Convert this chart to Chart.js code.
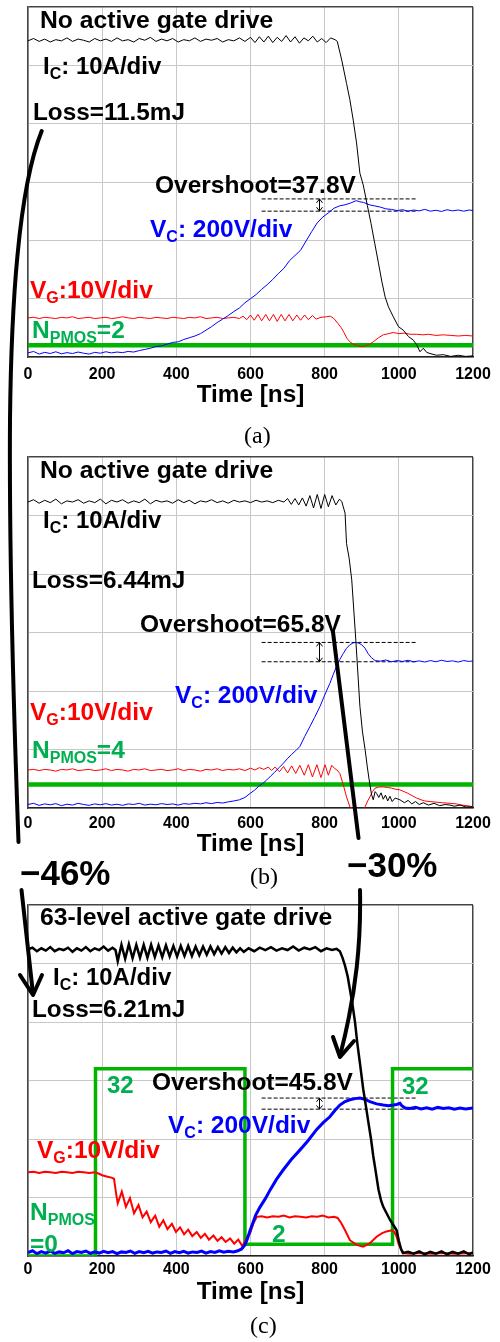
<!DOCTYPE html>
<html>
<head>
<meta charset="utf-8">
<script src="https://cdn.jsdelivr.net/npm/chart.js@4.4.1/dist/chart.umd.min.js"></script>
<style>
html, body { margin: 0; padding: 0; background: #fff; }
#page { position: relative; width: 500px; height: 1342px; overflow: hidden; }
.panel { position: absolute; left: 0; width: 500px; }
#overlay { position: absolute; left: 0; top: 0; pointer-events: none; }
</style>
</head>
<body>
<div id="page">
  <div class="panel" style="top:0px"><canvas id="chartA" width="500" height="420"></canvas></div>
  <div class="panel" style="top:450px"><canvas id="chartB" width="500" height="418"></canvas></div>
  <div class="panel" style="top:898px"><canvas id="chartC" width="500" height="418"></canvas></div>

  <svg id="overlay" width="500" height="1342" viewBox="0 0 500 1342">
    <g font-family="'Liberation Sans', Arial, sans-serif" font-weight="bold">
      <!-- (a) -->
      <text x="40" y="28" font-size="24.7">No active gate drive</text>
      <text x="43" y="74" font-size="24">I<tspan font-size="16" dy="5">C</tspan><tspan dy="-5">: 10A/div</tspan></text>
      <text x="33" y="120" font-size="24.3">Loss=11.5mJ</text>
      <text x="155" y="193" font-size="24.5">Overshoot=37.8V</text>
      <text x="150" y="237" font-size="24.5" fill="#0000ff">V<tspan font-size="16" dy="5">C</tspan><tspan dy="-5">: 200V/div</tspan></text>
      <text x="30" y="298" font-size="24.5" fill="#ff0000">V<tspan font-size="16" dy="5">G</tspan><tspan dy="-5">:10V/div</tspan></text>
      <text x="32" y="338" font-size="24.5" fill="#00b050">N<tspan font-size="16" dy="5">PMOS</tspan><tspan dy="-5">=2</tspan></text>

      <!-- (b) -->
      <text x="40" y="478" font-size="24.7">No active gate drive</text>
      <text x="43" y="528" font-size="24">I<tspan font-size="16" dy="5">C</tspan><tspan dy="-5">: 10A/div</tspan></text>
      <text x="32" y="588" font-size="24.3">Loss=6.44mJ</text>
      <text x="140" y="632" font-size="24.5">Overshoot=65.8V</text>
      <text x="175" y="703" font-size="24.5" fill="#0000ff">V<tspan font-size="16" dy="5">C</tspan><tspan dy="-5">: 200V/div</tspan></text>
      <text x="30" y="720" font-size="24.5" fill="#ff0000">V<tspan font-size="16" dy="5">G</tspan><tspan dy="-5">:10V/div</tspan></text>
      <text x="32" y="758" font-size="24.5" fill="#00b050">N<tspan font-size="16" dy="5">PMOS</tspan><tspan dy="-5">=4</tspan></text>

      <!-- (c) -->
      <text x="40" y="925" font-size="24.8">63-level active gate drive</text>
      <text x="53" y="985" font-size="24">I<tspan font-size="16" dy="5">C</tspan><tspan dy="-5">: 10A/div</tspan></text>
      <text x="32" y="1017" font-size="24.3">Loss=6.21mJ</text>
      <text x="107" y="1093" font-size="24" fill="#00b050">32</text>
      <text x="402" y="1094" font-size="24" fill="#00b050">32</text>
      <text x="152" y="1090" font-size="24.5">Overshoot=45.8V</text>
      <text x="168" y="1133" font-size="24.5" fill="#0000ff">V<tspan font-size="16" dy="5">C</tspan><tspan dy="-5">: 200V/div</tspan></text>
      <text x="37" y="1158" font-size="24.5" fill="#ff0000">V<tspan font-size="16" dy="5">G</tspan><tspan dy="-5">:10V/div</tspan></text>
      <text x="30" y="1220" font-size="24.5" fill="#00b050">N<tspan font-size="16" dy="5">PMOS</tspan></text>
      <text x="30" y="1252" font-size="24.5" fill="#00b050">=0</text>
      <text x="272" y="1242" font-size="24.5" fill="#00b050">2</text>

      <!-- reductions -->
      <text x="20" y="885" font-size="35">−46%</text>
      <text x="347" y="877" font-size="35">−30%</text>
    </g>

    <g font-family="'Liberation Serif', 'Times New Roman', serif" font-size="24" fill="#000">
      <text x="244" y="443">(a)</text>
      <text x="250" y="884">(b)</text>
      <text x="250" y="1333">(c)</text>
    </g>

    <!-- big arrows -->
    <g fill="none" stroke="#000" stroke-width="4" stroke-linecap="round" stroke-linejoin="round">
      <path d="M41.7,131 C30,160 12,230 10,420 C9,560 14,720 18.5,842"/>
      <path d="M21.5,890 L33,994"/>
      <path d="M20,975 L33,995 L42,975"/>
      <path d="M333,632 L358.5,838"/>
      <path d="M360,890 C361,940 357,990 340,1056"/>
      <path d="M333,1037 L340,1057 L354,1041"/>
    </g>
  </svg>
</div>

<script>
// --- tick labels (ns) ---
const timeTicks = [0, 200, 400, 600, 800, 1000, 1200];

// --- (a) no active gate drive, N_PMOS = 2 ---
// I_C [A], 10 A/div
const icA = [[0,54.2],[15,54.6],[30,54.1],[45,54.5],[60,54.0],[75,54.4],[90,54.2],[105,54.7],[120,54.1],[135,54.5],[150,54.3],[165,54.0],[180,54.6],[195,54.2],[210,54.5],[225,54.1],[240,54.7],[255,54.2],[270,54.4],[285,54.0],[300,54.6],[315,54.3],[330,54.8],[345,54.1],[360,54.5],[375,54.2],[390,54.6],[405,54.0],[420,54.4],[435,54.2],[450,54.7],[465,54.1],[480,54.5],[495,54.3],[510,54.6],[525,54.0],[540,54.4],[555,54.2],[570,54.7],[585,54.1],[600,54.8],[612,53.9],[624,54.9],[636,54.0],[648,55.0],[660,53.9],[672,54.8],[684,54.1],[696,55.1],[708,54.0],[720,54.9],[732,53.8],[744,54.7],[756,54.2],[768,55.0],[780,54.0],[792,54.6],[804,53.9],[816,54.7],[828,54.4],[834,54.1],[846,50.9],[859,46.9],[868,44.1],[877,40.6],[886,36.7],[895,31.5],[904,29.5],[915,26.0],[925,22.9],[935,19.5],[945,16.1],[954,13.0],[963,10.3],[972,8.6],[985,6.9],[999,5.2],[1012,4.6],[1026,3.5],[1039,2.9],[1048,2.1],[1057,0.9],[1066,1.5],[1075,0.8],[1084,0.6],[1102,0.3],[1120,0.4],[1140,0.1],[1160,0.3],[1180,0.1],[1200,0.2]];
// V_C [V], 200 V/div
const vcA = [[0,14],[15,19],[30,10],[45,16],[60,12],[75,18],[90,11],[105,15],[120,12],[135,17],[150,13],[165,10],[180,16],[195,13],[210,18],[225,14],[240,17],[255,15],[270,19],[285,17],[300,22],[315,26],[330,30],[345,36],[360,38],[375,44],[390,50],[405,52],[420,60],[435,66],[450,72],[465,80],[480,92],[495,104],[510,118],[525,130],[540,142],[555,156],[570,168],[585,186],[600,200],[615,214],[630,232],[645,248],[660,266],[675,286],[690,304],[705,330],[720,348],[735,366],[750,398],[765,430],[780,460],[795,480],[810,494],[825,510],[840,518],[855,522],[870,528],[885,536],[895,532],[905,530],[920,522],[935,518],[950,514],[965,508],[980,506],[995,502],[1010,505],[1025,500],[1040,504],[1055,501],[1070,506],[1085,500],[1100,503],[1115,499],[1130,505],[1145,501],[1160,504],[1175,500],[1190,504],[1200,502]];
// V_G [V], 10 V/div
const vgA = [[0,6.7],[15,6.8],[30,6.6],[45,6.8],[60,6.7],[75,6.6],[90,6.8],[105,6.7],[120,6.9],[135,6.6],[150,6.7],[165,6.8],[180,6.6],[195,6.7],[210,6.8],[225,6.6],[240,6.7],[255,6.9],[270,6.7],[285,6.6],[300,6.8],[315,6.7],[330,6.6],[345,6.8],[360,6.7],[375,6.6],[390,6.8],[405,6.7],[420,6.6],[435,6.8],[450,6.7],[465,6.9],[480,6.6],[495,6.7],[510,6.8],[525,6.6],[540,6.7],[555,6.8],[570,6.6],[580,7.0],[590,6.4],[600,7.2],[610,6.3],[620,7.3],[630,6.2],[641,7.3],[651,6.2],[662,7.3],[672,6.1],[683,7.3],[693,6.2],[704,7.3],[714,6.2],[725,7.2],[735,6.3],[746,7.2],[756,6.4],[767,7.1],[777,6.5],[790,6.8],[805,6.9],[815,7.0],[825,6.6],[835,5.8],[845,5.0],[852,4.2],[860,3.2],[868,2.6],[877,2.2],[890,1.9],[904,1.8],[918,2.1],[931,2.6],[945,3.3],[958,3.8],[972,4.0],[985,4.2],[1000,4.0],[1015,4.1],[1030,3.9],[1048,3.9],[1065,3.8],[1080,3.9],[1100,3.7],[1120,3.8],[1140,3.7],[1160,3.6],[1180,3.7],[1200,3.6]];
// N_PMOS, 10 per div
const nA = [[0,2],[1200,2]];
// overshoot marker levels [V]
const osA = [500, 542];

// --- (b) no active gate drive, N_PMOS = 4 ---
const icB = [[0,52.3],[15,52.7],[30,52.1],[45,52.6],[60,52.2],[75,52.8],[90,52.0],[105,52.5],[120,52.3],[135,52.7],[150,52.1],[165,52.5],[180,52.2],[195,52.8],[210,52.0],[225,52.6],[240,52.3],[255,52.7],[270,52.1],[285,52.5],[300,52.2],[315,52.8],[330,52.0],[345,52.6],[360,52.3],[375,52.5],[390,52.1],[405,52.7],[420,52.2],[435,52.6],[450,52.0],[465,52.5],[480,52.3],[495,52.7],[510,52.2],[525,52.5],[540,52.1],[555,52.6],[570,52.3],[585,52.5],[600,52.2],[615,52.6],[630,52.3],[645,52.5],[660,52.2],[675,52.6],[690,52.3],[700,52.9],[710,51.9],[720,52.9],[730,51.8],[740,53.0],[750,51.6],[760,53.4],[770,51.3],[780,53.6],[790,51.2],[800,53.6],[810,51.5],[820,53.4],[830,51.8],[840,52.8],[846,52.4],[855,50.4],[859,45.2],[866,42.7],[873,39.0],[884,28.7],[895,17.4],[902,13.0],[909,10.0],[915,7.0],[920,4.8],[926,2.4],[931,1.4],[936,2.8],[940,2.5],[946,1.8],[952,2.6],[958,1.5],[964,2.2],[970,1.2],[976,2.0],[982,1.1],[990,1.7],[1003,1.4],[1015,0.9],[1025,1.3],[1035,0.7],[1045,1.1],[1055,0.6],[1066,0.9],[1080,0.5],[1095,0.8],[1110,0.4],[1125,0.6],[1138,0.5],[1150,0.3],[1165,0.5],[1180,0.2],[1200,0.2]];
const vcB = [[0,12],[15,16],[30,9],[45,14],[60,11],[75,15],[90,8],[105,13],[120,10],[135,16],[150,12],[165,9],[180,14],[195,11],[210,15],[225,10],[240,13],[255,9],[270,14],[285,12],[300,16],[315,10],[330,13],[345,11],[360,15],[375,12],[390,14],[405,10],[420,15],[435,13],[450,16],[465,14],[480,18],[495,15],[510,19],[525,17],[540,21],[555,24],[570,28],[585,36],[599,50],[610,60],[622,74],[633,84],[644,96],[655,110],[665,122],[677,138],[688,152],[699,168],[710,182],[722,196],[733,210],[746,244],[760,278],[773,310],[787,346],[800,386],[814,426],[823,456],[832,484],[841,508],[850,528],[859,546],[868,558],[876,564],[882,566],[891,564],[900,558],[909,546],[917,528],[926,514],[936,504],[950,502],[965,506],[980,500],[995,504],[1010,501],[1025,505],[1040,500],[1055,503],[1070,499],[1085,504],[1100,500],[1115,505],[1130,501],[1145,503],[1160,499],[1175,504],[1190,501],[1200,503]];
const vgB = [[0,6.5],[15,6.6],[30,6.4],[45,6.6],[60,6.5],[75,6.3],[90,6.6],[105,6.5],[120,6.7],[135,6.4],[150,6.5],[165,6.6],[180,6.4],[195,6.5],[210,6.7],[225,6.4],[240,6.6],[255,6.5],[270,6.3],[285,6.6],[300,6.5],[315,6.7],[330,6.4],[345,6.5],[360,6.6],[375,6.4],[390,6.5],[405,6.7],[420,6.4],[435,6.6],[450,6.5],[465,6.3],[480,6.6],[495,6.5],[510,6.7],[525,6.4],[540,6.6],[555,6.5],[570,6.7],[585,6.4],[600,6.8],[612,6.5],[624,6.9],[636,6.6],[648,7.0],[657,6.4],[666,7.0],[678,6.2],[689,7.1],[700,6.0],[711,7.2],[722,5.9],[733,7.3],[745,5.6],[756,7.4],[767,5.3],[779,7.4],[790,5.2],[801,7.4],[810,5.6],[819,7.3],[826,6.8],[833,6.5],[841,5.9],[850,4.0],[859,1.9],[868,0.2],[880,-0.3],[900,-0.3],[909,0.2],[916,1.2],[922,1.9],[929,2.8],[936,3.4],[947,3.6],[958,3.6],[970,3.5],[980,3.4],[992,3.2],[1003,3.1],[1014,2.8],[1025,2.5],[1036,2.1],[1048,1.7],[1060,1.4],[1070,1.2],[1085,1.1],[1100,1.0],[1118,0.9],[1138,0.8],[1155,0.7],[1170,0.5],[1185,0.4],[1200,0.2]];
const nB = [[0,4],[1200,4]];
const osB = [500, 566];

// --- (c) 63-level active gate drive ---
const icC = [[0,52.4],[12,52.7],[24,52.1],[36,52.6],[48,52.2],[60,52.8],[72,52.1],[84,52.5],[96,52.3],[108,52.7],[120,52.0],[132,52.6],[144,52.2],[156,52.8],[168,52.1],[180,52.6],[192,52.3],[204,52.9],[216,52.2],[228,52.7],[236,52.3],[242,50.4],[252,53.2],[262,50.8],[272,53.3],[282,50.9],[292,53.2],[302,51.0],[312,53.2],[322,51.0],[332,53.2],[342,51.1],[352,53.1],[362,51.1],[372,53.1],[382,51.2],[392,53.0],[402,51.2],[412,53.0],[422,51.3],[432,53.0],[442,51.3],[452,52.9],[462,51.4],[472,52.9],[482,51.5],[492,52.9],[502,51.6],[512,52.8],[522,51.7],[532,52.8],[542,51.8],[552,52.7],[562,51.9],[572,52.6],[582,52.0],[595,52.6],[610,52.1],[625,52.7],[640,52.3],[655,52.8],[670,52.2],[685,52.6],[700,52.3],[715,52.9],[730,52.2],[745,52.7],[760,52.4],[775,52.8],[790,52.1],[805,52.6],[820,52.3],[832,52.5],[841,52.1],[848,51.0],[855,49.6],[862,47.8],[868,45.6],[875,43.0],[882,39.9],[888,36.4],[895,33.0],[904,28.5],[911,25.7],[918,22.8],[925,20.0],[931,17.1],[938,14.3],[945,11.4],[952,9.5],[958,8.4],[967,7.3],[976,6.2],[985,5.3],[994,4.4],[1000,2.6],[1006,1.2],[1012,0.5],[1025,0.7],[1040,0.4],[1055,0.8],[1070,0.3],[1085,0.7],[1100,0.4],[1115,0.8],[1130,0.3],[1145,0.7],[1160,0.4],[1175,0.8],[1190,0.3],[1200,0.6]];
const vcC = [[0,12],[12,18],[24,8],[36,15],[48,10],[60,17],[72,9],[84,14],[96,11],[108,18],[120,8],[132,15],[144,12],[156,17],[168,9],[180,14],[192,10],[204,16],[216,11],[228,15],[240,8],[252,14],[264,12],[276,17],[288,9],[300,15],[312,11],[324,16],[336,10],[348,14],[360,12],[372,17],[384,9],[396,15],[408,11],[420,16],[432,10],[444,14],[456,12],[468,17],[480,10],[492,15],[504,12],[516,18],[528,13],[540,16],[554,14],[566,18],[576,24],[585,38],[592,60],[599,88],[606,112],[614,140],[626,168],[640,196],[653,226],[670,262],[688,294],[710,330],[733,362],[755,394],[778,432],[796,456],[814,476],[828,498],[841,516],[855,528],[868,534],[882,538],[895,540],[908,536],[922,528],[940,520],[958,516],[972,514],[985,516],[994,518],[1003,522],[1008,514],[1017,506],[1030,504],[1045,508],[1060,503],[1075,507],[1090,502],[1105,508],[1120,504],[1135,507],[1150,502],[1165,506],[1180,503],[1200,506]];
const vgC = [[0,14.3],[15,14.4],[30,14.2],[45,14.4],[60,14.3],[75,14.2],[90,14.4],[105,14.3],[120,14.2],[135,14.4],[150,14.3],[165,14.2],[180,14.3],[190,14.1],[200,13.8],[212,13.6],[225,13.4],[232,13.2],[238,10.5],[242,9.0],[253,11.0],[264,8.4],[275,9.9],[286,7.3],[298,8.7],[309,6.6],[320,7.6],[331,5.8],[343,6.9],[354,5.0],[365,6.1],[376,4.6],[388,5.5],[399,4.1],[410,4.9],[421,3.7],[432,4.5],[443,3.4],[455,4.1],[466,3.1],[477,3.8],[488,2.8],[500,3.5],[511,2.6],[522,3.2],[533,2.4],[545,3.0],[556,2.1],[567,2.8],[578,1.7],[586,2.6],[592,3.4],[599,3.9],[608,5.6],[617,6.7],[630,6.8],[645,6.6],[660,6.8],[675,6.7],[690,6.9],[705,6.6],[720,6.8],[735,6.7],[750,6.6],[765,6.8],[780,6.7],[795,6.9],[810,6.6],[825,6.7],[835,6.5],[845,5.6],[855,4.4],[868,2.7],[886,1.9],[904,1.6],[922,2.2],[940,3.3],[955,3.9],[967,4.2],[981,4.4],[988,4.1],[994,3.3],[1000,1.9],[1003,1.6],[1010,0.5],[1030,0.4],[1060,0.5],[1090,0.4],[1120,0.5],[1150,0.4],[1200,0.5]];
const nC = [[0,0],[182,0],[182,32],[585,32],[585,2],[983,2],[983,32],[1200,32]];
const osC = [502, 540];

// overshoot marker span [ns] and arrow position
const osSpan = [630, 1048];
const osArrowT = 784;

const FONT = "'Liberation Sans', Arial, Helvetica, sans-serif";
const GRID = '#c8c8c8';
const EDGE = '#444';

function pts(arr) {
    return arr.map(([x, y]) => ({ x: x, y: y }));
}

// small double-headed arrow between the two dashed overshoot lines
const gapArrow = {
    id: 'gapArrow',
    afterDatasetsDraw(chart, args, opts) {
        const xs = chart.scales.x, ys = chart.scales.yv;
        const x = Math.round(xs.getPixelForValue(opts.t)) + 0.5;
        const yHi = ys.getPixelForValue(opts.hi);
        const yLo = ys.getPixelForValue(opts.lo);
        const h = Math.min(4, (yLo - yHi) / 3);
        const ctx = chart.ctx;
        ctx.save();
        ctx.strokeStyle = '#000';
        ctx.lineWidth = 1;
        ctx.beginPath();
        ctx.moveTo(x, yHi); ctx.lineTo(x, yLo);
        ctx.moveTo(x - 3, yHi + h); ctx.lineTo(x, yHi); ctx.lineTo(x + 3, yHi + h);
        ctx.moveTo(x - 3, yLo - h); ctx.lineTo(x, yLo); ctx.lineTo(x + 3, yLo - h);
        ctx.stroke();
        ctx.restore();
    }
};

function makeChart(id, p) {
    const ctx = document.getElementById(id).getContext('2d');
    const dash = (v) => ({
        data: pts([[osSpan[0], v], [osSpan[1], v]]),
        yAxisID: 'yv', borderColor: '#000', borderWidth: 1, borderDash: [4, 2],
        pointRadius: 0
    });
    return new Chart(ctx, {
        type: 'line',
        data: {
            datasets: [
                { label: 'I_C', data: pts(p.ic), yAxisID: 'y', borderColor: '#000', borderWidth: p.w[0], pointRadius: 0, tension: 0 },
                { label: 'V_C', data: pts(p.vc), yAxisID: 'yv', borderColor: '#0000ff', borderWidth: p.w[1], pointRadius: 0, tension: 0 },
                { label: 'V_G', data: pts(p.vg), yAxisID: 'y', borderColor: '#ff0000', borderWidth: p.w[2], pointRadius: 0, tension: 0 },
                { label: 'N_PMOS', data: pts(p.n), yAxisID: 'y', borderColor: '#00b400', borderWidth: p.w[3], pointRadius: 0, tension: 0 },
                dash(p.os[0]),
                dash(p.os[1])
            ]
        },
        options: {
            responsive: false,
            animation: false,
            events: [],
            layout: { padding: { left: 28, right: 27, top: 7, bottom: 0 } },
            plugins: {
                legend: { display: false },
                tooltip: { enabled: false },
                gapArrow: { t: osArrowT, lo: p.os[0], hi: p.os[1] }
            },
            scales: {
                x: {
                    type: 'linear', min: 0, max: 1200,
                    afterBuildTicks: s => { s.ticks = timeTicks.map(v => ({ value: v })); },
                    afterFit: s => { s.height = p.axisH; },
                    ticks: {
                        color: '#000', padding: p.tickPad, maxRotation: 0, autoSkip: false,
                        font: { family: FONT, size: 16, weight: 'bold' },
                        callback: v => String(v)
                    },
                    grid: {
                        drawTicks: false,
                        color: c => (c.tick && c.tick.value === 1200 ? EDGE : GRID),
                        lineWidth: c => (c.tick && c.tick.value === 1200 ? 1.5 : 1)
                    },
                    border: { color: '#222', width: 1.5 },
                    title: {
                        display: true, text: 'Time [ns]', color: '#000',
                        font: { family: FONT, size: 24.3, weight: 'bold' },
                        padding: { top: 0, bottom: p.titlePad }
                    }
                },
                y: {
                    min: 0, max: 60,
                    afterFit: s => { s.width = 0; },
                    ticks: { display: false, stepSize: 10 },
                    grid: {
                        drawTicks: false,
                        color: c => (c.tick && c.tick.value === 60 ? EDGE : GRID),
                        lineWidth: c => (c.tick && c.tick.value === 60 ? 1.5 : 1)
                    },
                    border: { color: EDGE, width: 1.5 }
                },
                yv: { min: 0, max: 1200, display: false }
            }
        },
        plugins: [gapArrow]
    });
}

makeChart('chartA', { ic: icA, vc: vcA, vg: vgA, n: nA, os: osA, w: [1, 1, 1, 4.5], axisH: 63, tickPad: 8, titlePad: 10 });
makeChart('chartB', { ic: icB, vc: vcB, vg: vgB, n: nB, os: osB, w: [1, 1, 1, 4.5], axisH: 60, tickPad: 6, titlePad: 9 });
makeChart('chartC', { ic: icC, vc: vcC, vg: vgC, n: nC, os: osC, w: [2.5, 3, 2, 3.5], axisH: 60, tickPad: 4, titlePad: 9 });
</script>
</body>
</html>
